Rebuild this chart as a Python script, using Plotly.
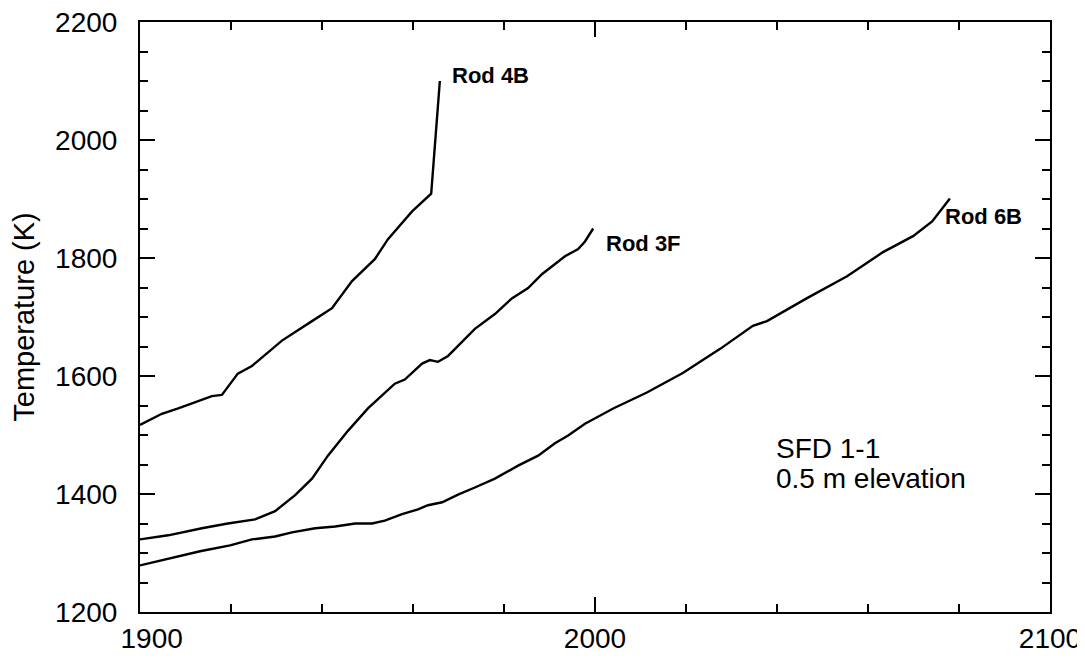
import plotly.graph_objects as go

# Rod 4B
rod4b_t = [1900, 1904.8, 1908.4, 1912.1, 1915.8, 1918.0, 1921.5, 1924.6, 1931.2, 1937.8,
           1942.2, 1946.6, 1951.6, 1954.5, 1959.8, 1964.0, 1965.9]
rod4b_T = [1517, 1536, 1545, 1555, 1566, 1568, 1604, 1617, 1660, 1693,
           1715, 1761, 1798, 1832, 1879, 1909, 2100]

# Rod 3F
rod3f_t = [1900, 1906.2, 1913.6, 1919.3, 1925.3, 1929.7, 1934.1, 1937.8, 1941.3, 1945.7,
           1950.1, 1956.0, 1958.2, 1962.0, 1963.7, 1965.5, 1967.7, 1971.0, 1973.6, 1978.0,
           1981.8, 1985.3, 1988.4, 1993.4, 1996.3, 1997.8, 1999.6]
rod3f_T = [1323, 1330, 1342, 1350, 1357, 1371, 1398, 1426, 1465, 1507,
           1545, 1587, 1594, 1621, 1627, 1624, 1634, 1660, 1680, 1705,
           1732, 1749, 1773, 1803, 1815, 1828, 1850]

# Rod 6B
rod6b_t = [1900, 1906.6, 1913.2, 1919.8, 1924.6, 1929.7, 1933.4, 1938.5, 1942.9, 1947.3,
           1951.0, 1953.8, 1957.6, 1961.1, 1963.3, 1966.4, 1969.9, 1973.6, 1978.0, 1983.1,
           1987.5, 1991.2, 1994.1, 1997.8, 2004.0, 2011.4, 2019.3, 2027.5, 2034.7, 2037.8,
           2046.6, 2055.4, 2059.8, 2063.3, 2069.9, 2074.1, 2078.0]
rod6b_T = [1279, 1291, 1303, 1313, 1323, 1328, 1335, 1342, 1345, 1350,
           1350, 1355, 1366, 1374, 1381, 1386, 1399, 1411, 1426, 1448,
           1465, 1486, 1499, 1519, 1545, 1572, 1605, 1646, 1685, 1693,
           1732, 1769, 1791, 1810, 1837, 1862, 1901]

x_tickvals = [1900, 2000, 2100]
x_ticktext = ["\u00a0\u00a0\u00a01900", "2000", "2100"]
y_tickvals = [1200, 1400, 1600, 1800, 2000, 2200]
y_ticktext = ["1200", "1400", "1600", "1800", "2000", "2200"]

labels = [("Rod 4B", 1968.1, 2110), ("Rod 3F", 2002.0, 1825), ("Rod 6B", 2076.5, 1871)]
note_lines = [("SFD 1-1", 1477), ("0.5 m elevation", 1426)]
note_x = 2039.3

FONT = "Liberation Sans, Arial, Helvetica, sans-serif"

fig = go.Figure()
for t, T in [(rod4b_t, rod4b_T), (rod3f_t, rod3f_T), (rod6b_t, rod6b_T)]:
    fig.add_trace(go.Scatter(x=t, y=T, mode="lines",
                             line=dict(color="black", width=2.4), showlegend=False,
                             hoverinfo="skip"))

for text, x, y in labels:
    fig.add_annotation(x=x, y=y, text="<b>" + text + "</b>", showarrow=False,
                       xanchor="left", yanchor="middle",
                       font=dict(family=FONT, size=22, color="black"))

for text, y in note_lines:
    fig.add_annotation(x=note_x, y=y, text=text, showarrow=False,
                       xanchor="left", yanchor="middle", align="left",
                       font=dict(family=FONT, size=28, color="black"))

fig.update_xaxes(range=[1900, 2100], tickmode="array", tickvals=x_tickvals,
                 ticktext=x_ticktext,
                 showgrid=False, zeroline=False, showline=True, linecolor="black",
                 linewidth=2, mirror="ticks", ticks="inside", ticklen=15,
                 tickwidth=2, tickcolor="black",
                 tickfont=dict(family=FONT, size=28, color="black"),
                 minor=dict(dtick=20, ticks="inside", ticklen=8, tickwidth=2,
                            tickcolor="black", showgrid=False))
fig.update_yaxes(range=[1200, 2200], tickmode="array", tickvals=y_tickvals,
                 ticktext=y_ticktext, ticklabelstandoff=15, automargin=False,
                 ticklabeloverflow="allow",
                 showgrid=False, zeroline=False, showline=True, linecolor="black",
                 linewidth=2, mirror="ticks", ticks="inside", ticklen=15,
                 tickwidth=2, tickcolor="black",
                 tickfont=dict(family=FONT, size=28, color="black"),
                 minor=dict(dtick=50, ticks="inside", ticklen=8, tickwidth=2,
                            tickcolor="black", showgrid=False),
                 title=dict(text="Temperature (K)", standoff=14,
                            font=dict(family=FONT, size=29, color="black")))

fig.update_layout(width=1085, height=661, margin=dict(l=132, r=43, t=12, b=57),
                  plot_bgcolor="white", paper_bgcolor="white",
                  font=dict(family=FONT, color="black"))

fig.write_html("out.html")
